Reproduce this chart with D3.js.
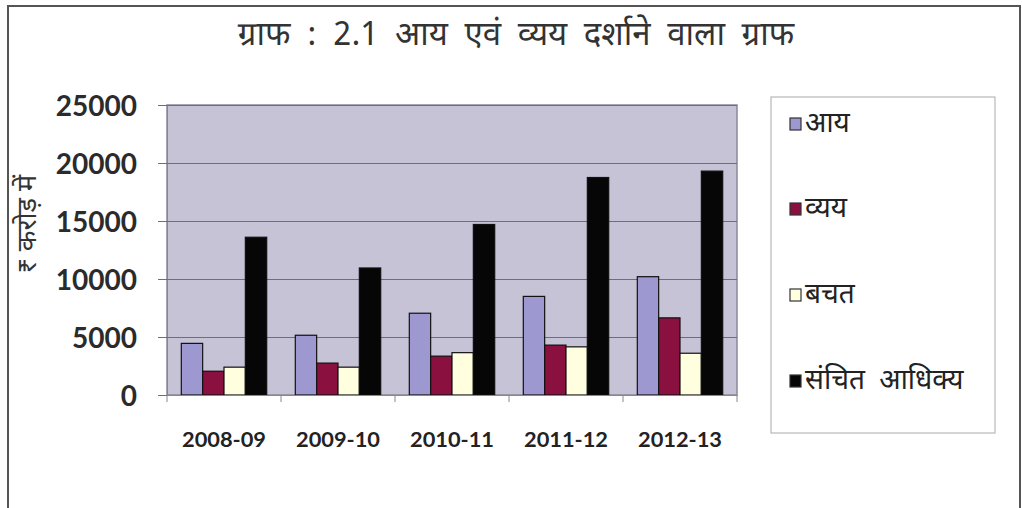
<!DOCTYPE html>
<html><head><meta charset="utf-8">
<script src="https://cdn.jsdelivr.net/npm/d3@7"></script>
<style>body{margin:0;background:#fff;} svg{display:block;}</style>
</head><body>
<svg id="c" width="1022" height="508"></svg>
<script>
const categories = ["2008-09","2009-10","2010-11","2011-12","2012-13"];
const seriesNames = ["आय","व्यय","बचत","संचित आधिक्य"];
const income = [4450, 5150, 7050, 8500, 10200];
const expenditure = [2050, 2750, 3350, 4300, 6650];
const savings = [2400, 2400, 3650, 4150, 3600];
const accumulated = [13600, 10950, 14700, 18750, 19300];
const yTicks = [0, 5000, 10000, 15000, 20000, 25000];
const colors = ["#9d98cf", "#8a1040", "#ffffe0", "#060606"];
const title = "ग्राफ : 2.1 आय एवं व्यय दर्शाने वाला ग्राफ";
const yLabel = "₹ करोड़ में";

const series = [income, expenditure, savings, accumulated];
const svg = d3.select("#c");
const deva = "'Noto Sans Devanagari','Lohit Devanagari','Noto Sans',sans-serif";

// outer frame
svg.append("rect").attr("x",8).attr("y",6).attr("width",1012).attr("height",520)
  .attr("fill","none").attr("stroke","#555").attr("stroke-width",2);

const L=167, R=737, T=105, B=395;
const x = d3.scaleBand().domain(categories).range([L,R]).paddingInner(0).paddingOuter(0);
const xi = d3.scaleBand().domain(d3.range(4)).range([0, x.bandwidth()]).paddingInner(0).paddingOuter(0.67);
const y = d3.scaleLinear().domain([0,25000]).range([B,T]);

svg.append("rect").attr("x",L).attr("y",T).attr("width",R-L).attr("height",B-T)
  .attr("fill","#c6c3d6").attr("stroke","#8a8898").attr("stroke-width",1.5);

// gridlines + y axis
const ya = svg.append("g").attr("transform",`translate(${L},0)`)
  .call(d3.axisLeft(y).tickValues(yTicks).tickSize(-(R-L)).tickSizeOuter(0).tickPadding(30).tickFormat(d3.format("d")));
ya.select(".domain").attr("stroke","#888");
ya.selectAll(".tick line").attr("stroke","#6e6d78").attr("x1",-9);
ya.selectAll(".tick text").attr("fill","#2b2b2b").attr("font-family","Lato, 'Open Sans', sans-serif")
  .attr("font-weight","bold").attr("font-size",28).attr("dy","0.36em");

// bars
const g = svg.append("g");
categories.forEach((c,ci)=>{
  series.forEach((s,si)=>{
    g.append("rect").attr("x",x(c)+xi(si)).attr("width",xi.bandwidth())
      .attr("y",y(s[ci])).attr("height",y(0)-y(s[ci]))
      .attr("fill",colors[si]).attr("stroke","#111").attr("stroke-width",1.2);
  });
});

// x axis
const xa = svg.append("g").attr("transform",`translate(0,${B})`)
  .call(d3.axisBottom(x).tickSize(0).tickPadding(37));
xa.select(".domain").attr("stroke","#888");
xa.selectAll(".tick text").attr("fill","#222").attr("font-family","Lato, 'Open Sans', sans-serif")
  .attr("font-weight","bold").attr("font-size",21)
  .attr("textLength",84).attr("lengthAdjust","spacingAndGlyphs");
// boundary ticks
svg.append("g").selectAll("line").data(d3.range(categories.length+1)).join("line")
  .attr("x1",d=>L+d*x.step()).attr("x2",d=>L+d*x.step()).attr("y1",B).attr("y2",B+7)
  .attr("stroke","#888");

// title
svg.append("text").attr("x",516).attr("y",45).attr("text-anchor","middle")
  .attr("font-family",deva).attr("font-size",33).attr("fill","#333")
  .attr("word-spacing",8).text(title);

// y label
svg.append("text").attr("transform","translate(36,224) rotate(-90)").attr("text-anchor","middle")
  .attr("font-family",deva).attr("font-size",27).attr("fill","#333").text(yLabel);

// legend
svg.append("rect").attr("x",771).attr("y",97).attr("width",224).attr("height",336)
  .attr("fill","#fff").attr("stroke","#aaa").attr("stroke-width",1);
const ly = [124, 209, 295, 381];
seriesNames.forEach((n,i)=>{
  svg.append("rect").attr("x",790).attr("y",ly[i]-6).attr("width",11).attr("height",12)
    .attr("fill",colors[i]).attr("stroke","#333").attr("stroke-width",1.2);
  svg.append("text").attr("x",805).attr("y",ly[i]).attr("dy","0.3em")
    .attr("font-family",deva).attr("font-size",28).attr("word-spacing",7)
    .attr("fill","#222").text(n);
});
</script>
</body></html>
